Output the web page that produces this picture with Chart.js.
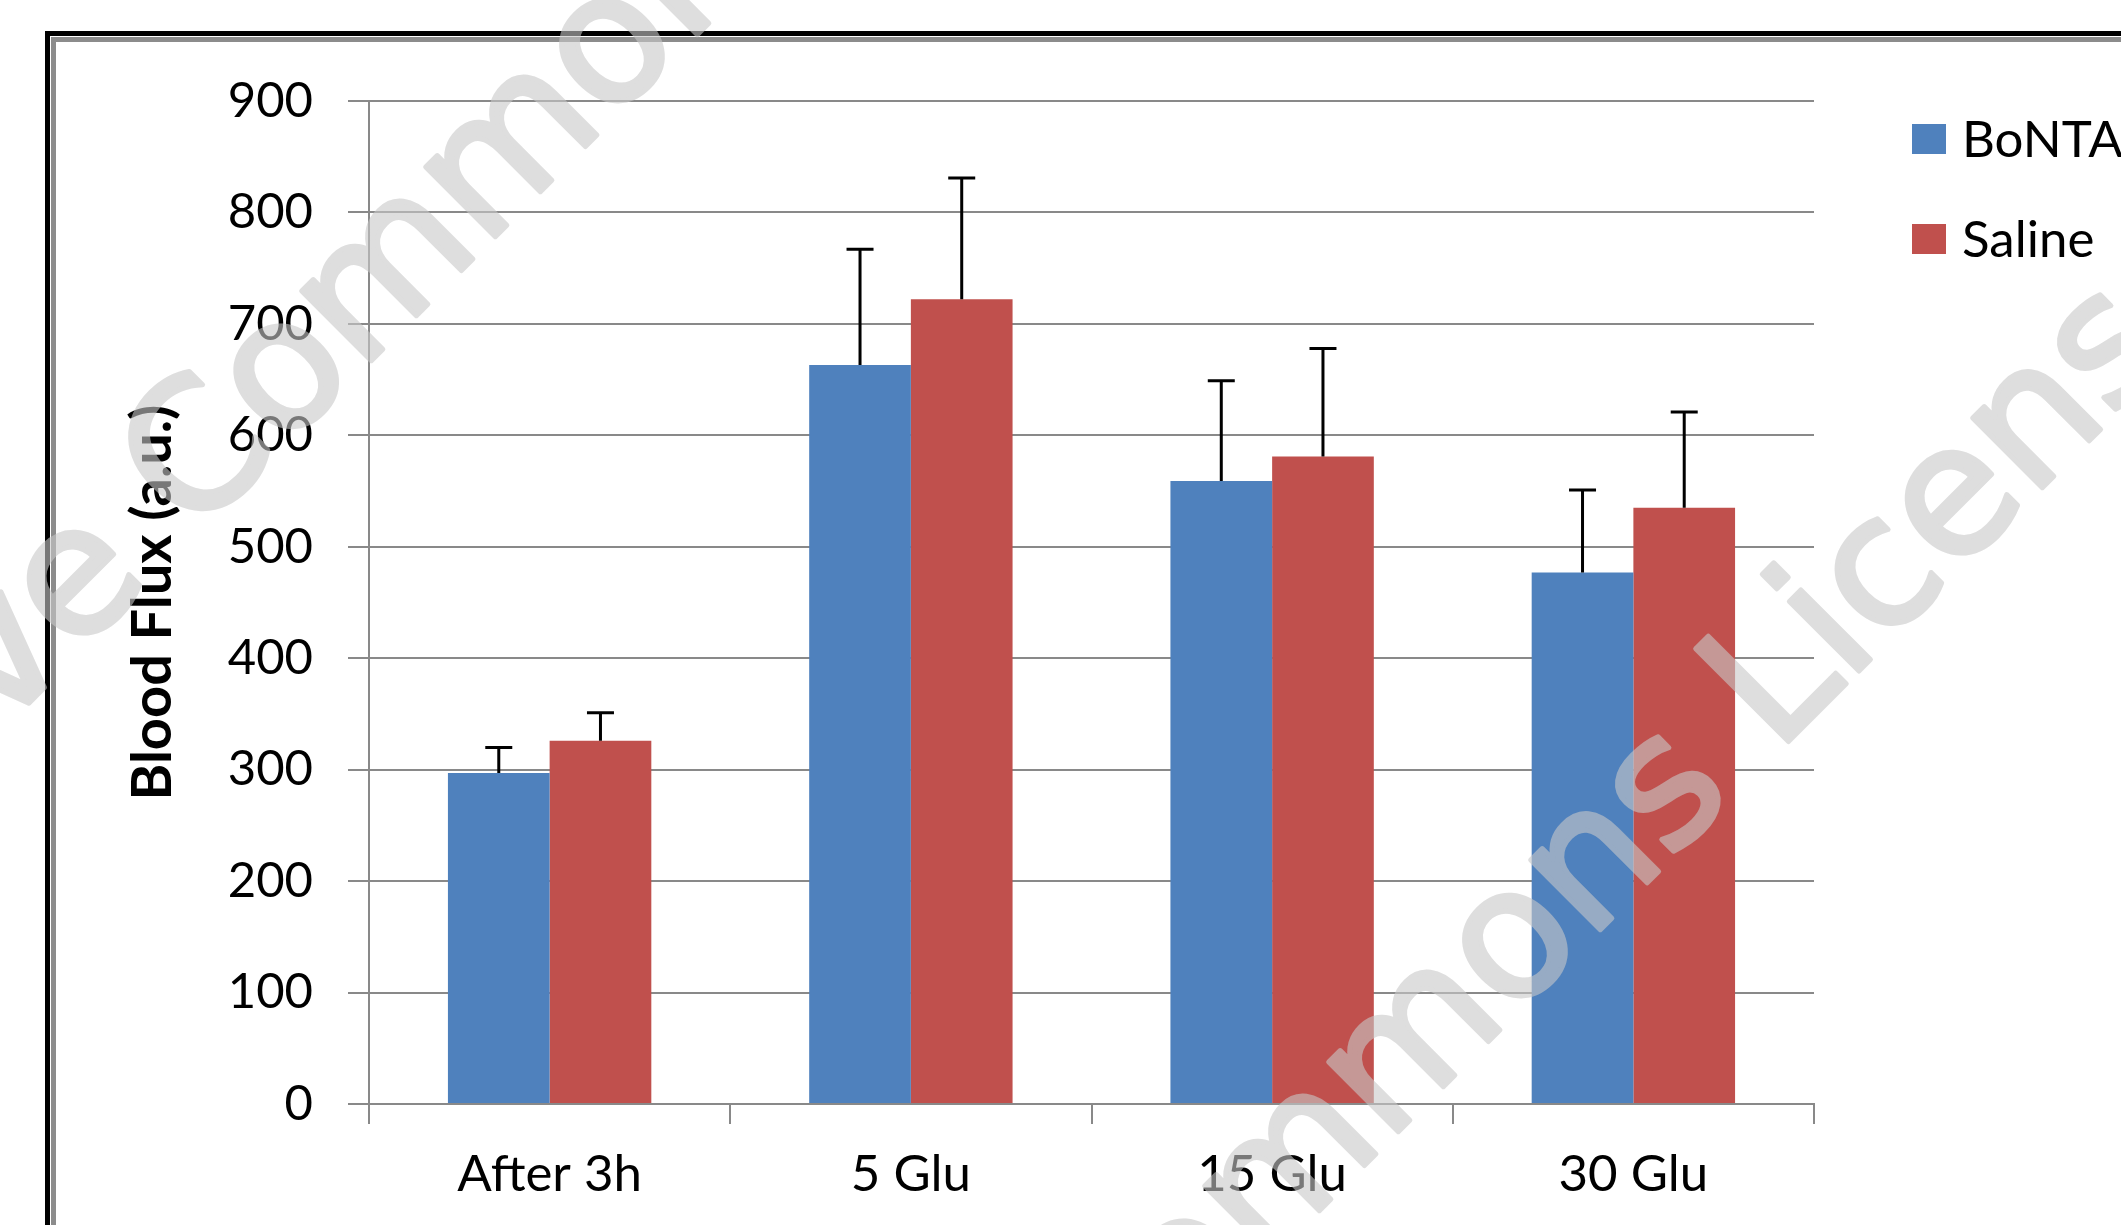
<!DOCTYPE html>
<html>
<head>
<meta charset="utf-8">
<script src="https://cdn.jsdelivr.net/npm/chart.js@4.4.1/dist/chart.umd.min.js"></script>
<style>
  html, body { margin: 0; padding: 0; background: #fff; overflow: hidden; }
  #wrap { position: relative; width: 2121px; height: 1225px; overflow: hidden; background: #fff; }
  #frameOuter { position: absolute; left: 45px; top: 31px; width: 2300px; height: 1400px;
                border-left: 5px solid #000; border-top: 5px solid #000; }
  #frameInner { position: absolute; left: 51px; top: 37px; width: 2300px; height: 1400px;
                border-left: 5px solid #8c8c8c; border-top: 5px solid #8c8c8c; }
  #c { position: absolute; left: 0; top: 0; }
  .lgItem { position: absolute; left: 1912px; height: 60px; white-space: nowrap; }
  .lgBox { position: absolute; left: 0; width: 34px; height: 30px; }
  .lgText { position: absolute; left: 50px; top: 0; font-family: Lato, sans-serif; font-size: 51px;
            line-height: 60px; color: #000; }
  #wm { position: absolute; left: 0; top: 0; pointer-events: none; }
</style>
</head>
<body>
<div id="wrap">
  <div id="frameOuter"></div>
  <div id="frameInner"></div>
  <canvas id="c" width="2121" height="1225"></canvas>
  <div id="legend"></div>
  <svg id="wm" width="2121" height="1225" xmlns="http://www.w3.org/2000/svg">
    <g opacity="0.6" fill="rgb(200,200,200)" stroke="rgb(200,200,200)" stroke-width="5" stroke-linejoin="round" font-family="DejaVu Sans" font-size="180">
      <text x="-381" y="1113" transform="rotate(-45 -381 1113)">Creative Commons License</text>
      <text x="522" y="2008" transform="rotate(-45 522 2008)">Creative Commons License</text>
    </g>
  </svg>
</div>
<script>
// ---- data ----
const categories = ['After 3h', '5 Glu', '15 Glu', '30 Glu'];
const seriesNames = ['BoNTA', 'Saline'];
const bontaValues = [297, 663, 559, 477];
const salineValues = [326, 722, 581, 535];
const bontaErrors = [23, 104, 90, 74];
const salineErrors = [25, 109, 97, 86];
const yMin = 0;
const yMax = 900;
const yStep = 100;
const yTitle = 'Blood Flux (a.u.)';

// ---- styles ----
const COLORS = ['#4F81BD', '#C0504D'];
const GRID = '#898989';

const errorBarPlugin = {
  id: 'errorBars',
  afterDatasetsDraw(chart) {
    const ctx = chart.ctx;
    const yScale = chart.scales.y;
    chart.data.datasets.forEach((ds, i) => {
      const meta = chart.getDatasetMeta(i);
      meta.data.forEach((bar, j) => {
        const top = yScale.getPixelForValue(ds.data[j] + ds.errors[j]);
        ctx.save();
        ctx.strokeStyle = '#000';
        ctx.lineWidth = 3;
        ctx.beginPath();
        ctx.moveTo(bar.x, bar.y);
        ctx.lineTo(bar.x, top);
        ctx.moveTo(bar.x - 13.5, top);
        ctx.lineTo(bar.x + 13.5, top);
        ctx.stroke();
        ctx.restore();
      });
    });
  }
};

const chart = new Chart(document.getElementById('c'), {
  type: 'bar',
  data: {
    labels: categories,
    datasets: [
      { label: seriesNames[0], data: bontaValues, errors: bontaErrors, backgroundColor: COLORS[0], borderWidth: 0 },
      { label: seriesNames[1], data: salineValues, errors: salineErrors, backgroundColor: COLORS[1], borderWidth: 0 }
    ]
  },
  options: {
    responsive: false,
    animation: false,
    devicePixelRatio: 1,
    layout: { padding: { left: 0, top: 101, right: 307, bottom: 0 } },
    datasets: { bar: { categoryPercentage: 0.563, barPercentage: 1.0 } },
    plugins: { legend: { display: false }, tooltip: { enabled: false } },
    scales: {
      x: {
        grid: { display: true, drawOnChartArea: false, drawTicks: true, tickLength: 20, color: GRID, lineWidth: 2, offset: true },
        border: { display: true, color: GRID, width: 2 },
        ticks: { font: { family: 'Lato', size: 51 }, color: '#000', padding: 20, maxRotation: 0, autoSkip: false },
        afterFit: (s) => { s.height = 121; }
      },
      y: {
        min: yMin, max: yMax,
        ticks: { stepSize: yStep, font: { family: 'Lato', size: 49 }, color: '#000', padding: 35 },
        grid: { color: GRID, lineWidth: 2, tickLength: 21 },
        border: { display: true, color: GRID, width: 2 },
        title: { display: true, text: yTitle, font: { family: 'Lato', size: 56, weight: 'bold' }, color: '#000', padding: { top: 119, bottom: 0 } },
        afterFit: (s) => { s.width = 369; }
      }
    }
  },
  plugins: [errorBarPlugin]
});

// ---- HTML legend built from the series ----
const legendTops = [124, 224];
const legend = document.getElementById('legend');
seriesNames.forEach((name, i) => {
  const item = document.createElement('div');
  item.className = 'lgItem';
  item.style.top = (legendTops[i] - 15) + 'px';
  const box = document.createElement('div');
  box.className = 'lgBox';
  box.style.top = '15px';
  box.style.background = COLORS[i];
  const txt = document.createElement('div');
  txt.className = 'lgText';
  txt.style.top = '-1px';
  txt.textContent = name;
  item.appendChild(box);
  item.appendChild(txt);
  legend.appendChild(item);
});
</script>
</body>
</html>
